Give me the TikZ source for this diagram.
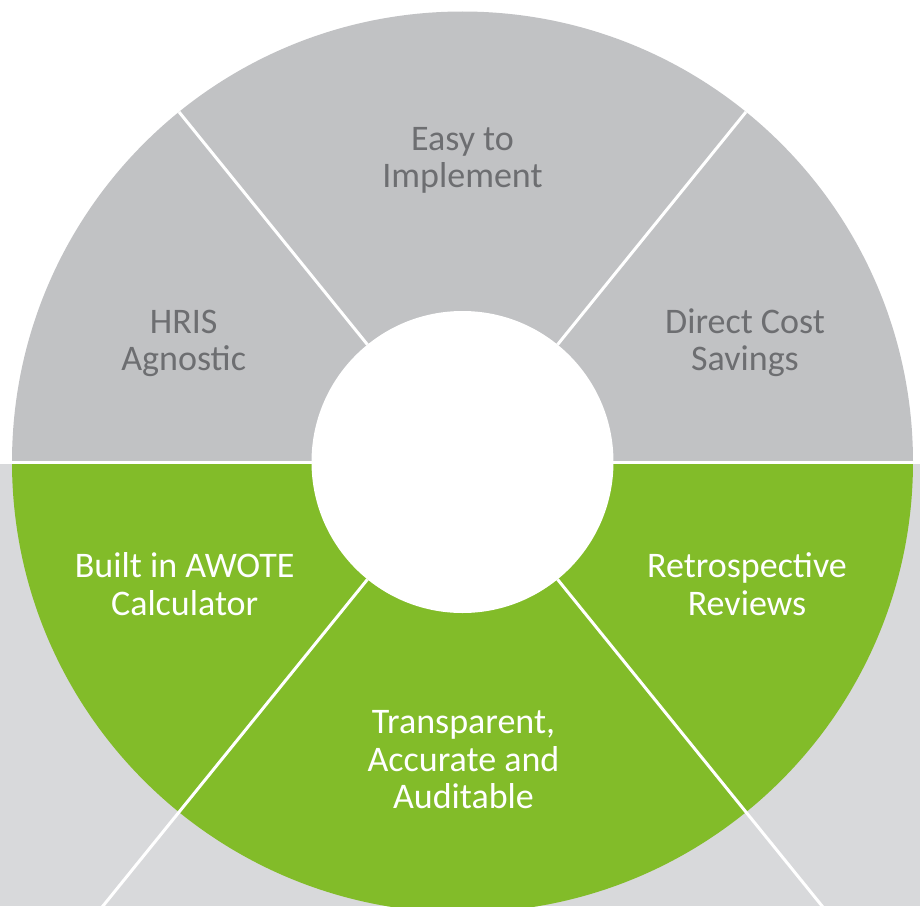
\documentclass[tikz,border=0pt]{standalone}
\usepackage{fontspec}
\setmainfont{Carlito}
\definecolor{wheelgray}{HTML}{C1C2C4}
\definecolor{wheelgreen}{HTML}{82BC29}
\definecolor{bggray}{HTML}{D8D9DB}
\definecolor{txtgray}{HTML}{6D6E71}
\newcommand\lblstrut{\rule[-8pt]{0pt}{34pt}}
\tikzset{
  seglabel/.style={align=center, inner sep=0pt, font=\fontsize{36}{37.5}\selectfont},
  graylabel/.style={seglabel, text=txtgray},
  greenlabel/.style={seglabel, text=white},
  divider/.style={draw=white, line width=3pt}
}
\begin{document}
\begin{tikzpicture}[x=1pt,y=1pt]
\useasboundingbox (-462.5,-444) rectangle (457.5,462);
\clip (-462.5,-444) rectangle (457.5,462);
\coordinate (c) at (0,0);
% lower background
\fill[bggray] (-462.5,0) rectangle (457.5,-444);
% upper gray half
\fill[wheelgray] (0:450.5pt) arc[start angle=0,end angle=180,radius=450.5pt] -- cycle;
% lower green half
\fill[wheelgreen] (180:450.5pt) arc[start angle=180,end angle=360,radius=450.5pt] -- cycle;
% hub
\fill[white] (c) circle[radius=151pt];
% dividers
\coordinate (hl) at (-462.5,0);
\coordinate (hr) at (457.5,0);
\draw[divider] (hl) -- (hr);
\coordinate (ul1) at (129:151pt);  \coordinate (ul2) at (129:450.5pt);
\coordinate (ur1) at (51:151pt);   \coordinate (ur2) at (51:450.5pt);
\coordinate (ll1) at (-129:151pt); \coordinate (ll2) at (-129:600pt);
\coordinate (lr1) at (-51:151pt);  \coordinate (lr2) at (-51:600pt);
\draw[divider] (ul1) -- (ul2);
\draw[divider] (ur1) -- (ur2);
\draw[divider] (ll1) -- (ll2);
\draw[divider] (lr1) -- (lr2);
% labels
\node[graylabel] (easy) at (0,302) {\lblstrut Easy to\\\lblstrut Implement};
\node[graylabel] (hris) at (-278.8,119) {\lblstrut HRIS\\\lblstrut Agnostic};
\node[graylabel] (cost) at (282.5,119) {\lblstrut Direct Cost\\\lblstrut Savings};
\node[greenlabel] (awote) at (-277.8,-125.5) {\lblstrut Built in AWOTE\\\lblstrut Calculator};
\node[greenlabel] (retro) at (284.5,-125.5) {\lblstrut Retrospective\\\lblstrut Reviews};
\node[greenlabel] (trans) at (1,-300) {\lblstrut Transparent,\\\lblstrut Accurate and\\\lblstrut Auditable};
\end{tikzpicture}
\end{document}
